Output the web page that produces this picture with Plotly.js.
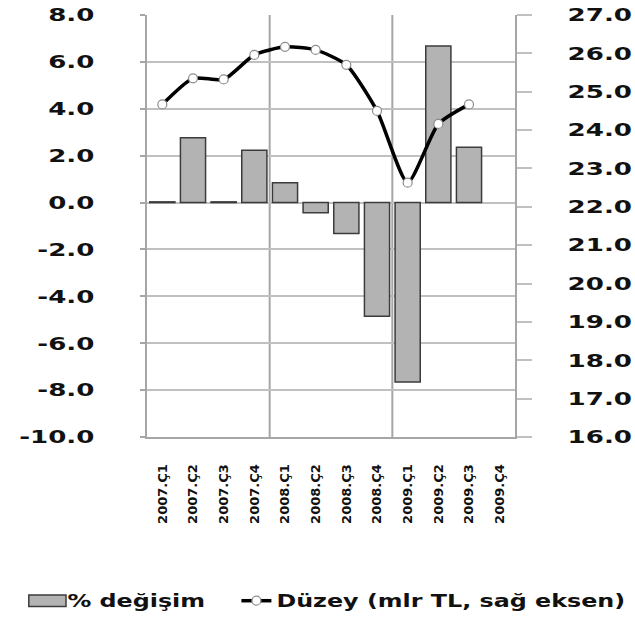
<!DOCTYPE html>
<html><head><meta charset="utf-8">
<script src="https://cdn.plot.ly/plotly-3.0.1.min.js"></script>
<style>html,body{margin:0;padding:0;background:#fff}</style>
</head><body>
<div id="chart" style="width:635px;height:619px"></div>
<script>
const quarters = ['2007.Ç1','2007.Ç2','2007.Ç3','2007.Ç4','2008.Ç1','2008.Ç2','2008.Ç3','2008.Ç4','2009.Ç1','2009.Ç2','2009.Ç3','2009.Ç4'];
const pctChange = [0.03, 2.76, 0.03, 2.23, 0.84, -0.43, -1.32, -4.85, -7.65, 6.68, 2.36, null];
const level = [24.67, 25.35, 25.32, 25.96, 26.17, 26.09, 25.70, 24.50, 22.63, 24.16, 24.67, null];
const leftTicks = [-10, -8, -6, -4, -2, 0, 2, 4, 6, 8];
const leftTickText = ['-10.0', '-8.0', '-6.0', '-4.0', '-2.0', '0.0', '2.0', '4.0', '6.0', '8.0'];
const rightTicks = [16, 17, 18, 19, 20, 21, 22, 23, 24, 25, 26, 27];
const rightTickText = ['16.0', '17.0', '18.0', '19.0', '20.0', '21.0', '22.0', '23.0', '24.0', '25.0', '26.0', '27.0'];
const seriesNames = ['% değişim', 'Düzey (mlr TL, sağ eksen)'];

const data = [
  {type:'bar', name:seriesNames[0], x:quarters, y:pctChange, xaxis:'x', yaxis:'y',
   marker:{color:'#b3b3b3', line:{color:'#3c3c3c', width:1.5}}},
  {type:'scatter', mode:'lines+markers', name:seriesNames[1], x:quarters, y:level, xaxis:'x', yaxis:'y2',
   line:{color:'#000', width:3.5, shape:'spline', smoothing:0.6},
   marker:{symbol:'circle', size:9, color:'#fff', line:{color:'#8c8c8c', width:1.2}}}
];

const grey = '#a6a6a6', light = '#c0c0c0';
const layout = {
  width:635, height:619,
  margin:{l:147, r:120, t:15, b:182, autoexpand:false},
  paper_bgcolor:'#fff', plot_bgcolor:'#fff',
  font:{family:'DejaVu Sans', size:18, color:'#111', weight:'bold'},
  bargap:0.18,
  showlegend:true,
  legend:{orientation:'h', x:-0.325, y:-0.389, xanchor:'left', yanchor:'middle',
          font:{size:17, weight:'bold', color:'#111'}, entrywidth:164, entrywidthmode:'pixels'},
  xaxis:{type:'category', range:[-0.5, 11.5], tickangle:-90, tickfont:{size:13, weight:'bold'},
         showgrid:false, zeroline:false, showline:true, linecolor:grey, linewidth:2, ticks:'', ticklabelstandoff:20},
  yaxis:{range:[-10, 8], tickvals:leftTicks, ticktext:leftTickText, showgrid:true, gridcolor:light, gridwidth:2,
         zeroline:false, showline:true, linecolor:grey, linewidth:2, ticks:'outside', ticklen:5,
         tickcolor:grey, tickwidth:2, ticklabelstandoff:42},
  yaxis2:{overlaying:'y', side:'right', range:[16, 27], tickvals:rightTicks, ticktext:rightTickText, showgrid:false,
          zeroline:false, showline:true, linecolor:grey, linewidth:2, ticks:'outside', ticklen:15,
          tickcolor:light, tickwidth:2, ticklabelstandoff:32},
  shapes:[
    {type:'line', xref:'x', yref:'paper', x0:3.5, x1:3.5, y0:0, y1:1, line:{color:grey, width:2}, layer:'below'},
    {type:'line', xref:'x', yref:'paper', x0:7.5, x1:7.5, y0:0, y1:1, line:{color:grey, width:2}, layer:'below'}
  ]
};

Plotly.newPlot('chart', data, layout, {staticPlot:true}).then(function(gd){
  function stretchText(sel, k){
    gd.querySelectorAll(sel).forEach(function(t){
      const w = t.getComputedTextLength();
      t.setAttribute('textLength', (w*k).toFixed(1));
      t.setAttribute('lengthAdjust', 'spacingAndGlyphs');
    });
  }
  stretchText('.ytick text, .y2tick text', 1.45);
  stretchText('.legendtext', 1.4);
  gd.querySelectorAll('.legend [clip-path]').forEach(function(n){ n.removeAttribute('clip-path'); });
  // widen the bar swatch in the legend like the original
  gd.querySelectorAll('.legend .legendpoints path.legendundefined, .legend .legendbar path').forEach(function(p){
    const tr = p.getAttribute('transform') || '';
    p.setAttribute('transform', tr + ' scale(3.1,0.95)');
    p.setAttribute('vector-effect', 'non-scaling-stroke');
    p.style.strokeWidth = '1.5px';
  });
});
</script>
</body></html>
